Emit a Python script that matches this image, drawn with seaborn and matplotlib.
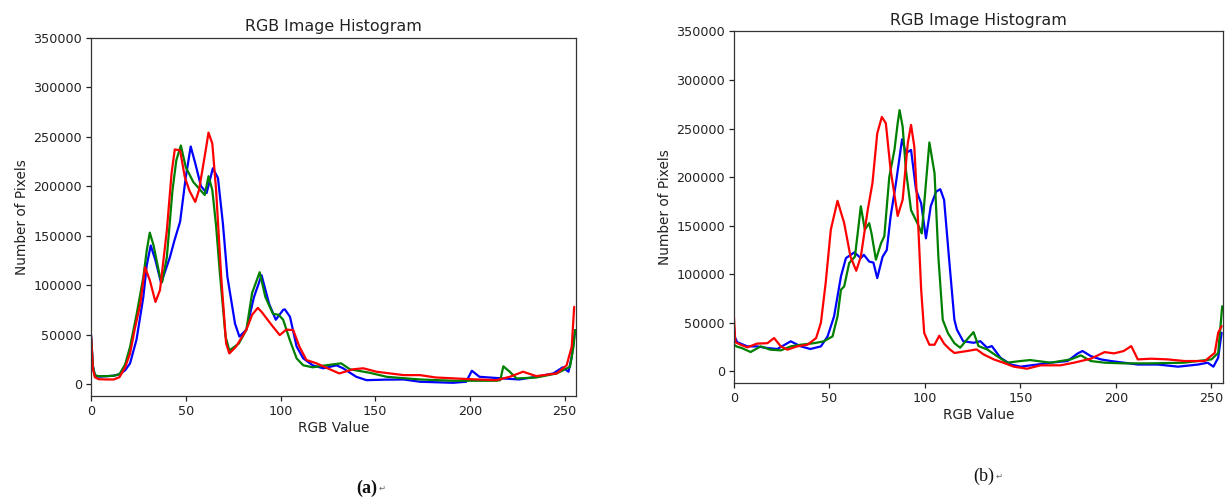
import numpy as np
import pandas as pd
import matplotlib
matplotlib.use("Agg")
import matplotlib.pyplot as plt
import seaborn as sns

# ---------------- data ----------------
channels = ["b", "g", "r"]
channel_colors = {"b": "blue", "g": "green", "r": "red"}
panel_titles = ["RGB Image Histogram", "RGB Image Histogram"]
x_label = "RGB Value"
y_label = "Number of Pixels"
captions = ["(a)", "(b)"]
y_ticks = [0, 50000, 100000, 150000, 200000, 250000, 300000, 350000]
x_ticks = [0, 50, 100, 150, 200, 250]

# panel (a)
a_blue = [(0, 50000), (1, 18000), (2, 9000), (4, 7500), (8, 8000), (12, 8500), (15, 10000),
          (18, 14000), (20.6, 21000), (24, 45000), (27.6, 88000), (29.4, 120000), (31.5, 140000),
          (34, 125000), (37, 102000), (41.6, 128000), (44, 145000), (47, 164000), (50, 209000),
          (52.6, 240000), (55, 223000), (58, 200000), (61, 193000), (64.3, 218000), (67, 208000),
          (69.6, 162000), (72, 108000), (76, 61000), (78.3, 48000), (82, 55000), (86, 88000),
          (90, 110000), (94, 81000), (97.5, 65000), (101.4, 75000), (102.3, 75500), (105, 68000),
          (108.5, 38000), (112, 26000), (117, 19000), (122.5, 16000), (129.6, 19000), (133, 16000),
          (140, 7400), (145.4, 4000), (155, 4500), (165, 4700), (173.6, 2400), (191, 1350),
          (198, 2400), (201, 13500), (205, 7400), (217.6, 5700), (226, 4700), (235, 7400),
          (244, 10800), (249, 17000), (252, 12500), (253.7, 27600), (255.5, 54600)]
a_green = [(0, 48000), (1, 18000), (2, 9000), (4, 8000), (8, 8000), (12, 8500), (15, 10000),
           (18, 20000), (20.6, 37700), (24, 70000), (27.6, 108000), (29.4, 135000), (31, 153000),
           (33, 140000), (36.4, 108000), (37.5, 103000), (40, 128000), (43, 196000), (45, 226000),
           (47.4, 241000), (50, 219000), (54, 204000), (60, 191000), (62, 210000), (64, 196000),
           (66, 160000), (68, 112000), (71, 48000), (73, 34000), (78, 41000), (82, 55000),
           (85, 92000), (89, 113000), (92, 88000), (96, 71000), (99, 70000), (101.4, 65000),
           (105, 44000), (108.5, 26000), (112, 19000), (117, 17000), (124, 19000), (132, 21000),
           (136.6, 15000), (147, 11500), (156, 7400), (173.6, 4700), (191, 3400), (214, 3400),
           (216, 4000), (217.6, 18000), (221, 12500), (224.6, 5700), (235, 6700), (245.8, 10800),
           (252.8, 17500), (254.6, 37700), (255.5, 54600)]
a_red = [(0, 48000), (1, 15000), (2, 7000), (4, 5000), (8, 4700), (12, 4700), (15, 7000),
         (18, 17000), (20.6, 31000), (23, 55000), (26, 81000), (28.5, 118000), (31, 105000),
         (34, 83000), (36.4, 95000), (40, 155000), (42.5, 213000), (44.2, 237000), (47, 236000),
         (49.5, 209000), (52, 195000), (55, 184000), (57, 196000), (60.5, 236000), (62, 254000),
         (64, 243000), (66, 196000), (68.7, 108000), (71.3, 41000), (73, 31000), (76.6, 38000),
         (82, 55000), (85, 70000), (88, 77000), (90, 73000), (92, 68000), (96, 58000),
         (99.6, 49500), (103, 55000), (106.7, 54600), (110, 37700), (113.7, 24300), (119, 21000),
         (126, 15000), (131, 10800), (138.4, 15000), (143.7, 16000), (150.7, 12500), (165, 9100),
         (173.6, 9100), (182, 6700), (200, 5000), (214, 4000), (221, 7400), (228, 12500),
         (235, 8100), (245.8, 10800), (251, 19000), (253.7, 37700), (255, 78000)]

# panel (b)
b_blue = [(0, 45000), (0.5, 35000), (1.7, 30000), (7, 25700), (12, 25700), (17.5, 24000),
          (22.7, 23000), (29.7, 30900), (35, 25700), (40, 23000), (45.5, 25700), (49, 36000),
          (52.4, 56600), (56, 97800), (58.6, 116600), (63, 122500), (66.4, 116600), (68, 120000),
          (70.8, 113000), (73, 112000), (75, 96000), (77.8, 118000), (80, 125000), (82, 159500),
          (84.8, 194000), (88, 239000), (90, 224700), (92.7, 228000), (95.3, 187000), (98, 173000),
          (100.5, 137000), (103, 170000), (105.8, 185000), (108, 187600), (110, 176600),
          (112.8, 111500), (115.4, 53000), (116.7, 43000), (120, 31000), (125.4, 29400),
          (129, 31000), (132.5, 24300), (135, 26000), (139.5, 14000), (145, 7000), (150, 4800),
          (158.8, 7000), (165.8, 8900), (174.6, 10600), (180, 18500), (182.5, 20900),
          (186.8, 15700), (192, 12300), (197.4, 10600), (204, 8900), (211.4, 7000), (222, 7000),
          (232.5, 4800), (243, 7000), (248, 8900), (251, 4800), (253.5, 14000), (255.3, 39700)]
b_green = [(0, 27400), (1.5, 25500), (4, 24000), (8.7, 19900), (14, 25700), (19, 22300),
           (24.5, 21600), (29.7, 25700), (35, 27400), (42, 29000), (47, 30900), (51.6, 36000),
           (54.2, 56600), (56, 84000), (57.7, 87500), (60.3, 111500), (63.3, 118000), (65, 146000),
           (66.4, 170000), (68.5, 146000), (70.8, 152600), (72, 142000), (74.3, 115000),
           (77, 132000), (78.7, 139000), (81.3, 200000), (84, 228000), (85.7, 255500),
           (86.7, 269000), (88.3, 252000), (90, 207500), (92.7, 166000), (96, 152600),
           (98.3, 142000), (100.5, 194000), (102.3, 235700), (105, 204000), (107, 118000),
           (109.3, 53000), (112, 39400), (115.4, 29000), (118.4, 24300), (122, 32800),
           (125.4, 40400), (128, 26000), (132.5, 22600), (137.7, 15700), (143, 8900), (150, 10600),
           (155, 11600), (165.8, 8900), (176.3, 12300), (181.6, 16400), (186.8, 10600),
           (194, 8900), (204, 8200), (218, 8200), (235.6, 8900), (250, 12300), (253.5, 19000),
           (255.6, 67000)]
b_red = [(0, 55000), (0.7, 30000), (3.5, 27400), (7, 24700), (12, 28500), (17.5, 29000),
         (21, 34300), (24.5, 25700), (28, 22300), (33, 25700), (38.5, 27400), (43, 34300),
         (45.5, 50000), (48, 91000), (50.7, 146000), (54.2, 175600), (57.7, 152600), (61, 118000),
         (64, 103600), (66.4, 118000), (70, 166000), (72.5, 194000), (75, 245000), (77.4, 262000),
         (79.5, 255500), (82, 207500), (85.7, 160000), (88.3, 176600), (91, 235000),
         (92.7, 253800), (94.4, 231500), (96, 170000), (98, 84000), (99.6, 39400), (102.3, 27400),
         (105, 27400), (107.5, 36700), (110, 28500), (113, 22600), (115.4, 18900), (119, 20000),
         (122, 20900), (127, 22600), (130.7, 17400), (136, 12300), (141, 8900), (146.5, 4800),
         (153.5, 2700), (160.5, 6200), (171, 6200), (178, 8900), (186.8, 13000), (194, 19800),
         (199, 18500), (204, 20900), (208, 26000), (211.4, 12300), (218.4, 13000), (227, 12300),
         (236, 10600), (246.5, 10600), (251.7, 19000), (253.5, 39700), (255.3, 46500)]

panels = [{"b": a_blue, "g": a_green, "r": a_red},
          {"b": b_blue, "g": b_green, "r": b_red}]


def to_frame(panel):
    rows = []
    for ch in channels:
        for i, (xv, yv) in enumerate(panel[ch]):
            rows.append({"channel": ch, "order": i, "value": xv, "count": yv})
    return pd.DataFrame(rows)


# ---------------- figure ----------------
sns.set_theme(style="ticks")
plt.rcParams["font.family"] = ["DejaVu Sans"]
plt.rcParams["axes.linewidth"] = 0.9
plt.rcParams["xtick.major.width"] = 0.9
plt.rcParams["ytick.major.width"] = 0.9
plt.rcParams["xtick.major.size"] = 3.5
plt.rcParams["ytick.major.size"] = 3.5

fig = plt.figure(figsize=(12.27, 4.99), dpi=100)
positions = [[0.0742, 0.2064, 0.3953, 0.7184],
             [0.5982, 0.2325, 0.3985, 0.7044]]

for k, panel in enumerate(panels):
    ax = fig.add_axes(positions[k])
    df = to_frame(panel)
    sns.lineplot(data=df, x="value", y="count", hue="channel", hue_order=channels,
                 palette=channel_colors, sort=False, estimator=None, units="channel",
                 legend=False, linewidth=1.6, ax=ax)
    ax.set_xlim(0, 256)
    ax.set_ylim(-12000, 350000)
    ax.set_xticks(x_ticks)
    ax.set_yticks(y_ticks)
    ax.tick_params(labelsize=9.2, colors="#222222", pad=3)
    for s in ax.spines.values():
        s.set_color("#333333")
    ax.set_title(panel_titles[k], fontsize=11.4, color="#222222", pad=5)
    ax.set_xlabel(x_label, fontsize=9.8, color="#222222", labelpad=2)
    ax.set_ylabel(y_label, fontsize=9.8, color="#222222", labelpad=3)

# captions
fig.text(0.2988, 0.022, captions[0], ha="center", va="center", fontsize=13,
         family=["Liberation Serif", "DejaVu Sans"], fontweight="bold", color="#111111")
fig.text(0.3115, 0.022, "\u21b5", ha="center", va="center", fontsize=6,
         family=["DejaVu Sans"], color="#666666")
fig.text(0.8015, 0.045, captions[1], ha="center", va="center", fontsize=13,
         family=["Liberation Serif", "DejaVu Sans"], color="#111111")
fig.text(0.8140, 0.045, "\u21b5", ha="center", va="center", fontsize=6,
         family=["DejaVu Sans"], color="#666666")

fig.savefig("out.png", dpi=100)
